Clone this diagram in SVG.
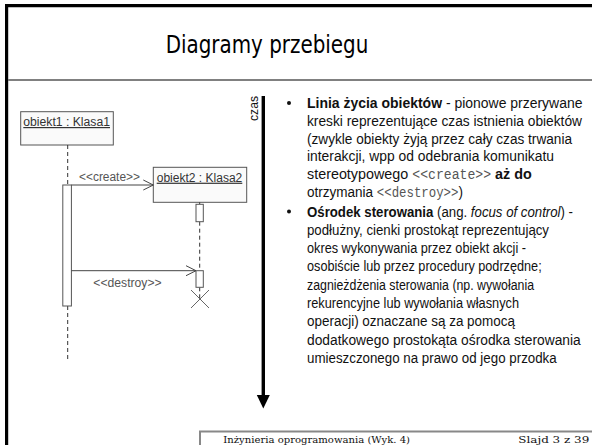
<svg xmlns="http://www.w3.org/2000/svg" width="592" height="445" viewBox="0 0 592 445">
<defs>
<style>
.frame{stroke:#000;stroke-width:3.2;fill:none}
.sep{stroke:#808080;stroke-width:2;fill:none}
.box{fill:#fafafa;stroke:#555;stroke-width:1}
.act{fill:#fff;stroke:#555;stroke-width:1}
.life{stroke:#333;stroke-width:1;stroke-dasharray:4 3;fill:none}
.msg{stroke:#444;stroke-width:1;fill:none}
.dtext{font-family:"Liberation Sans",Arial,sans-serif;font-size:12px;fill:#333}
.mtext{font-family:"Liberation Sans",Arial,sans-serif;font-size:12px;fill:#555}
.body{font-family:"Liberation Sans Narrow","Liberation Sans",Arial,sans-serif;font-size:15.3px;fill:#111}
.mono{font-family:"Liberation Mono","Courier New",monospace;font-size:14px;fill:#555}
.foot{font-family:"DejaVu Serif","Liberation Serif",serif;font-size:10px;fill:#111}
</style>
<marker id="open" viewBox="0 0 12 12" refX="11" refY="6" markerWidth="12" markerHeight="12" markerUnits="userSpaceOnUse" orient="auto">
<path d="M1,1 L11,6 L1,11" fill="none" stroke="#444" stroke-width="1"/>
</marker>
</defs>
<rect width="592" height="445" fill="#fff"/>
<g id="frame">
<path class="frame" d="M6.6,445 V5.7 H592"/>
<line class="sep" x1="8" y1="80" x2="592" y2="80"/>
<path d="M200,445 V431.5 H592" fill="none" stroke="#888" stroke-width="2"/>
</g>
<g id="title">
<text x="165.7" y="53.3" textLength="202.6" lengthAdjust="spacingAndGlyphs" style="font-family:'DejaVu Sans Condensed','DejaVu Sans',sans-serif;font-size:25px;fill:#000">Diagramy przebiegu</text>
</g>
<g id="obiekt1">
<rect class="box" x="20.7" y="111.7" width="92.6" height="33.3"/>
<text class="dtext" x="23.3" y="126" textLength="86.7" lengthAdjust="spacingAndGlyphs" text-decoration="underline">obiekt1 : Klasa1</text>
</g>
<g id="obiekt2">
<rect class="box" x="153.3" y="167.3" width="93.4" height="35"/>
<text class="dtext" x="156.7" y="181.7" textLength="85.6" lengthAdjust="spacingAndGlyphs" text-decoration="underline">obiekt2 : Klasa2</text>
</g>
<g id="lifelines">
<line class="life" x1="67.7" y1="145" x2="67.7" y2="185"/>
<line class="life" x1="67.7" y1="306" x2="67.7" y2="362"/>
<line class="life" x1="199.7" y1="202.3" x2="199.7" y2="204.3"/>
<line class="life" x1="199.7" y1="221.7" x2="199.7" y2="270.7"/>
<line class="life" x1="199.7" y1="287.3" x2="199.7" y2="298"/>
</g>
<g id="activations">
<rect class="act" x="62.8" y="185" width="8.6" height="121"/>
<rect class="act" x="196" y="204.3" width="7.3" height="17.4"/>
<rect class="act" x="196" y="270.7" width="7.3" height="16.6"/>
</g>
<g id="connectors">
<line class="msg" x1="71.4" y1="185" x2="153.3" y2="185" marker-end="url(#open)"/>
<text class="mtext" x="79" y="180.7" textLength="61" lengthAdjust="spacingAndGlyphs">&lt;&lt;create&gt;&gt;</text>
<line class="msg" x1="71.4" y1="270.7" x2="196" y2="270.7" marker-end="url(#open)"/>
<text class="mtext" x="93.3" y="286.7" textLength="68.4" lengthAdjust="spacingAndGlyphs">&lt;&lt;destroy&gt;&gt;</text>
</g>
<g id="destroy-x">
<path d="M191,290 L209,308 M209,290 L191,308" stroke="#666" stroke-width="1" fill="none"/>
</g>
<g id="czas">
<line x1="263.3" y1="96" x2="263.3" y2="396" stroke="#000" stroke-width="3.4"/>
<path d="M256.8,395 L269.8,395 L263.3,408.5 Z" fill="#000"/>
<text x="257.5" y="121" transform="rotate(-90 257.5 121)" style="font-family:'Liberation Sans',Arial,sans-serif;font-size:13px;fill:#111" textLength="25" lengthAdjust="spacingAndGlyphs">czas</text>
</g>
<g id="bullets">
<circle cx="289" cy="103" r="2" fill="#111"/>
<circle cx="289" cy="211.5" r="2" fill="#111"/>
<text class="body" x="307" y="108" textLength="275.5" lengthAdjust="spacingAndGlyphs"><tspan font-weight="bold">Linia życia obiektów</tspan> - pionowe przerywane</text>
<text class="body" x="307" y="125.8" textLength="275" lengthAdjust="spacingAndGlyphs">kreski reprezentujące czas istnienia obiektów</text>
<text class="body" x="307" y="143.6" textLength="265" lengthAdjust="spacingAndGlyphs">(zwykle obiekty żyją przez cały czas trwania</text>
<text class="body" x="307" y="161.4" textLength="247" lengthAdjust="spacingAndGlyphs">interakcji, wpp od odebrania komunikatu</text>
<text class="body" x="307" y="179.2" textLength="224.7" lengthAdjust="spacingAndGlyphs">stereotypowego <tspan class="mono">&lt;&lt;create&gt;&gt;</tspan> <tspan font-weight="bold">aż do</tspan></text>
<text class="body" x="307" y="197" textLength="156" lengthAdjust="spacingAndGlyphs">otrzymania <tspan class="mono">&lt;&lt;destroy&gt;&gt;</tspan>)</text>
<text class="body" x="307" y="216.5" textLength="266" lengthAdjust="spacingAndGlyphs"><tspan font-weight="bold">Ośrodek sterowania</tspan> (ang. <tspan font-style="italic">focus of control</tspan>) -</text>
<text class="body" x="307" y="234.8" textLength="242" lengthAdjust="spacingAndGlyphs">podłużny, cienki prostokąt reprezentujący</text>
<text class="body" x="307" y="253.1" textLength="219" lengthAdjust="spacingAndGlyphs">okres wykonywania przez obiekt akcji -</text>
<text class="body" x="307" y="271.4" textLength="234.7" lengthAdjust="spacingAndGlyphs">osobiście lub przez procedury podrzędne;</text>
<text class="body" x="307" y="289.7" textLength="227" lengthAdjust="spacingAndGlyphs">zagnieżdżenia sterowania (np. wywołania</text>
<text class="body" x="307" y="308" textLength="212" lengthAdjust="spacingAndGlyphs">rekurencyjne lub wywołania własnych</text>
<text class="body" x="307" y="326.3" textLength="208" lengthAdjust="spacingAndGlyphs">operacji) oznaczane są za pomocą</text>
<text class="body" x="307" y="344.6" textLength="273.7" lengthAdjust="spacingAndGlyphs">dodatkowego prostokąta ośrodka sterowania</text>
<text class="body" x="307" y="362.9" textLength="249.7" lengthAdjust="spacingAndGlyphs">umieszczonego na prawo od jego przodka</text>
</g>
<g id="footer">
<text class="foot" x="223.3" y="442.5" textLength="186.7" lengthAdjust="spacingAndGlyphs">Inżynieria oprogramowania (Wyk. 4)</text>
<text class="foot" x="518.3" y="442.5" textLength="71" lengthAdjust="spacingAndGlyphs">Slajd 3 z 39</text>
</g>
</svg>
